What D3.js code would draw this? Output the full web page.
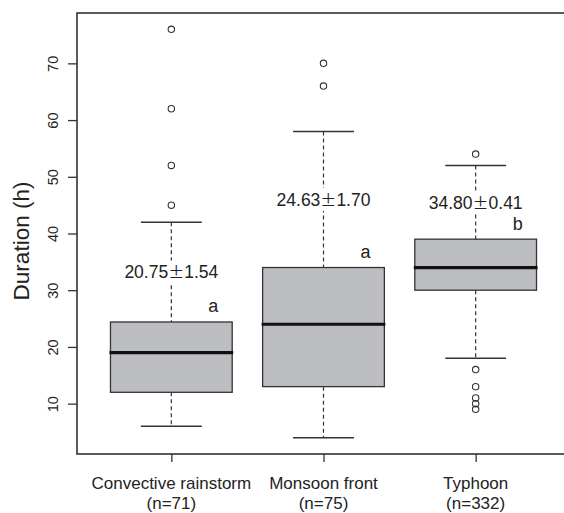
<!DOCTYPE html>
<html>
<head>
<meta charset="utf-8">
<script src="https://cdn.jsdelivr.net/npm/d3@7"></script>
<style>
  body { margin: 0; background: #fff; }
  svg { display: block; font-family: "Liberation Sans", Arial, sans-serif; }
</style>
</head>
<body>
<svg id="chart" width="564" height="513"></svg>
<script>
// ---- data ----
const categories = ["Convective rainstorm", "Monsoon front", "Typhoon"];
const counts = ["(n=71)", "(n=75)", "(n=332)"];
const whiskerLow = [6, 4, 18];
const q1 = [12, 13, 30];
const median = [19, 24, 34];
const q3 = [24.4, 34, 39];
const whiskerHigh = [42, 58, 52];
const outliers = [
  [45, 52, 62, 76],
  [66, 70],
  [54, 16, 13, 11, 10, 9]
];
const meanValues = ["20.75", "24.63", "34.80"];
const seValues = ["1.54", "1.70", "0.41"];
const groupLetters = ["a", "a", "b"];
const yTicks = [10, 20, 30, 40, 50, 60, 70];
const yTitle = "Duration (h)";

// ---- layout ----
const svg = d3.select("#chart");
const L = 77, R = 570, T = 13, B = 454;
const x = d3.scaleLinear().domain([0.38, 3.62]).range([L, R]);
const y = d3.scaleLinear().domain([1.12, 78.88]).range([B, T]);
const boxW = x(0.8) - x(0);
const capW = boxW / 2;
const dark = "#333";
const textCol = "#222";

const g = svg.append("g");

categories.forEach((c, i) => {
  const cx = x(i + 1);
  g.append("line").attr("x1", cx).attr("x2", cx)
    .attr("y1", y(whiskerHigh[i])).attr("y2", y(q3[i]))
    .attr("stroke", dark).attr("stroke-width", 1.2).attr("stroke-dasharray", "4,3");
  g.append("line").attr("x1", cx).attr("x2", cx)
    .attr("y1", y(q1[i])).attr("y2", y(whiskerLow[i]))
    .attr("stroke", dark).attr("stroke-width", 1.2).attr("stroke-dasharray", "4,3");
  [whiskerHigh[i], whiskerLow[i]].forEach(v => {
    g.append("line").attr("x1", cx - capW / 2).attr("x2", cx + capW / 2)
      .attr("y1", y(v)).attr("y2", y(v))
      .attr("stroke", dark).attr("stroke-width", 1.5);
  });
  g.append("rect").attr("x", cx - boxW / 2).attr("y", y(q3[i]))
    .attr("width", boxW).attr("height", y(q1[i]) - y(q3[i]))
    .attr("fill", "#bdbec2").attr("stroke", dark).attr("stroke-width", 1.3);
  g.append("line").attr("x1", cx - boxW / 2 - 1).attr("x2", cx + boxW / 2 + 1)
    .attr("y1", y(median[i])).attr("y2", y(median[i]))
    .attr("stroke", "#111").attr("stroke-width", 3.2);
  outliers[i].forEach(v => {
    g.append("circle").attr("cx", cx).attr("cy", y(v)).attr("r", 3.2)
      .attr("fill", "none").attr("stroke", dark).attr("stroke-width", 1.1);
  });
  // mean ± SE label, halfway between Q3 and upper whisker
  const ty = (y(q3[i]) + y(whiskerHigh[i])) / 2;
  g.append("rect").attr("x", cx - 4).attr("width", 8)
    .attr("y", ty - 11.5).attr("height", 23).attr("fill", "#fff");
  const t = g.append("text").attr("x", cx).attr("y", ty).attr("dy", "0.36em")
    .attr("text-anchor", "middle").attr("font-size", 17.5).attr("fill", textCol);
  t.append("tspan").text(meanValues[i]);
  t.append("tspan").attr("font-family", "'Noto Sans CJK SC', sans-serif").attr("font-size", 16).text("\u00b1");
  t.append("tspan").text(seValues[i]);
  g.append("text").attr("x", cx + boxW / 2 * 0.69).attr("y", y(q3[i]) - 16).attr("dy", "0.36em")
    .attr("text-anchor", "middle").attr("font-size", 18).attr("fill", textCol)
    .text(groupLetters[i]);
});

// frame
svg.append("rect").attr("x", L).attr("y", T).attr("width", R - L).attr("height", B - T)
  .attr("fill", "none").attr("stroke", dark).attr("stroke-width", 1.6);

// y axis
const yAxis = svg.append("g").attr("transform", `translate(${L},0)`)
  .call(d3.axisLeft(y).tickValues(yTicks).tickSize(9).tickSizeOuter(0));
yAxis.select(".domain").remove();
yAxis.selectAll(".tick line").attr("stroke", dark).attr("stroke-width", 1.3);
yAxis.selectAll(".tick text")
  .attr("font-size", 14.5).attr("fill", textCol)
  .attr("font-family", "Liberation Sans, Arial, sans-serif")
  .attr("text-anchor", "middle")
  .attr("transform", "translate(-24,0) rotate(-90)")
  .attr("x", 0).attr("y", 0).attr("dy", "0.36em");

// x axis ticks
const xAxis = svg.append("g").attr("transform", `translate(0,${B})`)
  .call(d3.axisBottom(x).tickValues([1, 2, 3]).tickSize(8).tickFormat(""));
xAxis.select(".domain").remove();
xAxis.selectAll(".tick line").attr("stroke", dark).attr("stroke-width", 1.3);

// category labels
categories.forEach((c, i) => {
  svg.append("text").attr("x", x(i + 1)).attr("y", 489)
    .attr("text-anchor", "middle").attr("font-size", 17).attr("fill", textCol).text(c);
  svg.append("text").attr("x", x(i + 1)).attr("y", 509)
    .attr("text-anchor", "middle").attr("font-size", 17).attr("fill", textCol).text(counts[i]);
});

// y title
svg.append("text").attr("transform", "translate(29,241) rotate(-90)")
  .attr("text-anchor", "middle").attr("font-size", 22.5).attr("fill", textCol).text(yTitle);
</script>
</body>
</html>
